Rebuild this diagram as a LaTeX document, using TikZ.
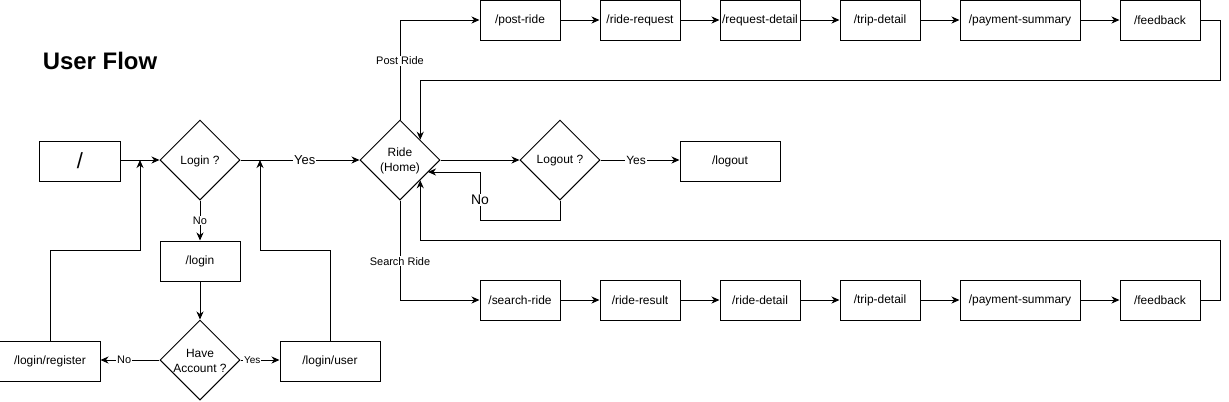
\documentclass[tikz,border=0pt]{standalone}
\usepackage{fontspec}
\setmainfont{Liberation Sans}
\usetikzlibrary{shapes.geometric,arrows.meta}
\begin{document}
\begin{tikzpicture}[x=1bp,y=-1bp,line width=1bp,
  box/.style={draw,rectangle,minimum width=80bp,minimum height=40bp,inner sep=0pt,font=\fontsize{12}{14}\selectfont},
  wbox/.style={box,minimum width=100bp},
  pbox/.style={box,minimum width=120bp},
  dia/.style={draw,diamond,minimum width=80bp,minimum height=80bp,inner sep=0pt},
  dtext/.style={align=center,inner sep=0pt,font=\fontsize{12}{15}\selectfont},
  arr/.style={-{Stealth[length=8bp,width=7bp,inset=2.5bp]}},
  lbl/.style={fill=white,inner sep=1pt,font=\fontsize{11}{13}\selectfont}
]
\useasboundingbox (0,0) rectangle (1229,401);

% title
\node[font=\bfseries\fontsize{24}{28}\selectfont] (title) at (100,61) {User Flow};

% left part
\node[box,font=\fontsize{22}{24}\selectfont] (root) at (80,161) {/};
\node[dia] (login) at (200,160) {};
\node[dtext] (logint) at (200,161) {Login ?};
\node[box] (loginbox) at (200,261) {/login};
\node[dia] (have) at (200,360) {};
\node[dtext] (havet) at (200,361) {Have\\Account ?};
\node[wbox] (reg) at (50,361) {/login/register};
\node[wbox] (user) at (330,361) {/login/user};

% middle
\node[dia] (home) at (400,160) {};
\node[dtext] (homet) at (400,161) {Ride\\(Home)};
\node[dia] (logout) at (560,160) {};
\node[dtext] (logoutt) at (560,161) {Logout ?};
\node[wbox] (logoutbox) at (730,161) {/logout};

% top row
\node[box] (post) at (520,20) {/post-ride};
\node[box] (rreq) at (640,20) {/ride-request};
\node[box] (reqd) at (760,20) {/request-detail};
\node[box] (trip1) at (880,20) {/trip-detail};
\node[pbox] (pay1) at (1020,20) {/payment-summary};
\node[box] (fb1) at (1160,20) {/feedback};

% bottom row
\node[box] (search) at (520,300) {/search-ride};
\node[box] (rres) at (640,300) {/ride-result};
\node[box] (rdet) at (760,300) {/ride-detail};
\node[box] (trip2) at (880,300) {/trip-detail};
\node[pbox] (pay2) at (1020,300) {/payment-summary};
\node[box] (fb2) at (1160,300) {/feedback};

% helper coordinates
\coordinate (jl) at (140,160);
\coordinate (jlb) at (140,250);
\coordinate (jr) at (260,160);
\coordinate (jrb) at (260,250);
\coordinate (ta) at (1220,80);
\coordinate (tb) at (1220,240);
\coordinate (nb) at (480,220);
\coordinate (nh) at (428,172);

% connectors
\draw[arr] (root.east |- login) -- (login);
\draw[arr] (reg.north) |- (jlb) -- (jl);
\draw[arr] (user.north) |- (jrb) -- (jr);
\draw[arr] (login) -- node[lbl,pos=0.54,font=\fontsize{13}{15}\selectfont]{Yes} (home);
\draw[arr] (login) -- node[lbl]{No} (loginbox);
\draw[arr] (loginbox) -- (have);
\draw[arr] (have) -- node[lbl,pos=0.6]{No} (reg.east |- have);
\draw[arr] (have) -- node[lbl,pos=0.3,font=\fontsize{10}{12}\selectfont]{Yes} (user.west |- have);

\draw[arr] (home.north) |- node[lbl,pos=0.295]{Post Ride} (post);
\draw[arr] (home.south) |- node[lbl,pos=0.305]{Search Ride} (search);

\draw[arr] (post) -- (rreq);
\draw[arr] (rreq) -- (reqd);
\draw[arr] (reqd) -- (trip1);
\draw[arr] (trip1) -- (pay1);
\draw[arr] (pay1) -- (fb1);

\draw[arr] (search) -- (rres);
\draw[arr] (rres) -- (rdet);
\draw[arr] (rdet) -- (trip2);
\draw[arr] (trip2) -- (pay2);
\draw[arr] (pay2) -- (fb2);

\draw[arr] (fb1.east) -| (ta) -| (home.north east);
\draw[arr] (fb2.east) -| (tb) -| (home.south east);

\draw[arr] (home) -- (logout);
\draw[arr] (logout) -- node[lbl,pos=0.45,font=\fontsize{12}{14}\selectfont]{Yes} (logoutbox.west |- logout);
\draw[arr] (logout.south) |- (nb) |- node[lbl,pos=0.21,font=\fontsize{14}{16}\selectfont]{No} (nh);
\end{tikzpicture}
\end{document}
